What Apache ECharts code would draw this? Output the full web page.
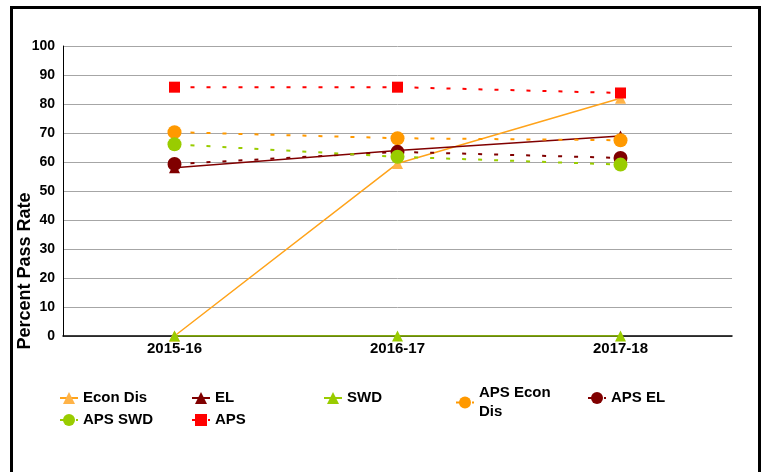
<!DOCTYPE html>
<html>
<head>
<meta charset="utf-8">
<script src="https://cdn.jsdelivr.net/npm/echarts@6/dist/echarts.min.js"></script>
<style>
html,body{margin:0;padding:0;background:#fff;}
#chart{width:762px;height:472px;}
</style>
</head>
<body>
<div id="chart"></div>
<script>
// data
var years = ['2015-16', '2016-17', '2017-18'];
var econDis = [0, 59.5, 82];
var el = [58, 64, 69];
var swd = [0, 0, 0];
var apsEconDis = [70.3, 68.2, 67.5];
var apsEl = [59.3, 63.5, 61.4];
var apsSwd = [66.1, 61.8, 59.1];
var aps = [85.8, 85.8, 83.8];
var yTicks = [0, 10, 20, 30, 40, 50, 60, 70, 80, 90, 100];
var legendNames = ['Econ Dis', 'EL', 'SWD', 'APS Econ Dis', 'APS EL', 'APS SWD', 'APS'];

var font = 'Liberation Sans, Arial, sans-serif';

function solid(name, data, color, mColor, symbol, size){
	return {
		name: name, type: 'line', data: data,
		symbol: symbol, symbolSize: size,
		lineStyle: {color: color, width: 1.5},
		itemStyle: {color: mColor},
		animation: false
	};
}
function dashed(name, data, color, symbol, size){
	return {
		name: name, type: 'line', data: data,
		symbol: symbol, symbolSize: size,
		lineStyle: {color: color, width: 2, type: [4, 12]},
		itemStyle: {color: color},
		animation: false
	};
}

//one legend per item so the columns sit on a fixed grid
function legendItem(i){
	var col = i < 5 ? i : i - 5;
	var top = i < 5 ? 383.5 : 405.5;
	if (legendNames[i] == 'APS Econ Dis') top = 378.5;
	return {
		data: [legendNames[i]],
		left: 54 + col * 132, top: top,
		itemWidth: 18, itemHeight: 15,
		textStyle: {fontFamily: font, fontWeight: 'bold', fontSize: 15, color: '#000', width: 80, overflow: 'break', lineHeight: 19}
	};
}
var legends = [];
for (var i = 0; i < legendNames.length; i++) legends.push(legendItem(i));

var myChart = echarts.init(document.getElementById('chart'));
option = {
	backgroundColor: '#fff',
	grid: {left: 63, right: 30, top: 46, bottom: 136},
	xAxis: {
		type: 'category',
		data: years,
		axisLine: {lineStyle: {color: '#000', width: 1.5}},
		axisTick: {show: false},
		axisLabel: {fontFamily: font, fontWeight: 'bold', fontSize: 15, color: '#000', margin: 5}
	},
	yAxis: {
		type: 'value',
		min: 0, max: 100, interval: 10,
		axisLine: {show: true, lineStyle: {color: '#000', width: 1}},
		axisTick: {show: false},
		axisLabel: {
			fontFamily: font, fontWeight: 'bold', fontSize: 14, color: '#000', margin: 8,
			formatter: function(v){ return yTicks.indexOf(v) >= 0 ? String(v) : ''; }
		},
		splitLine: {lineStyle: {color: '#A6A6A6', width: 1}}
	},
	legend: legends,
	graphic: [{
		type: 'rect', silent: true, z: 100,
		shape: {x: 11.5, y: 7.5, width: 748, height: 480},
		style: {fill: 'none', stroke: '#000', lineWidth: 3}
	}, {
		type: 'text', x: 25, y: 271, rotation: Math.PI / 2,
		style: {text: 'Percent Pass Rate', font: 'bold 18px ' + font, fill: '#000', textAlign: 'center', textVerticalAlign: 'middle'}
	}],
	series: [
		solid('Econ Dis', econDis, '#FFA31A', '#FFB347', 'triangle', 11),
		solid('EL', el, '#800000', '#800000', 'triangle', 11),
		solid('SWD', swd, '#99CC00', '#99CC00', 'triangle', 11),
		dashed('APS Econ Dis', apsEconDis, '#FF9900', 'circle', 14),
		dashed('APS EL', apsEl, '#800000', 'circle', 14),
		dashed('APS SWD', apsSwd, '#99CC00', 'circle', 14),
		dashed('APS', aps, '#FF0000', 'rect', 11)
	]
};
myChart.setOption(option);
</script>
</body>
</html>
